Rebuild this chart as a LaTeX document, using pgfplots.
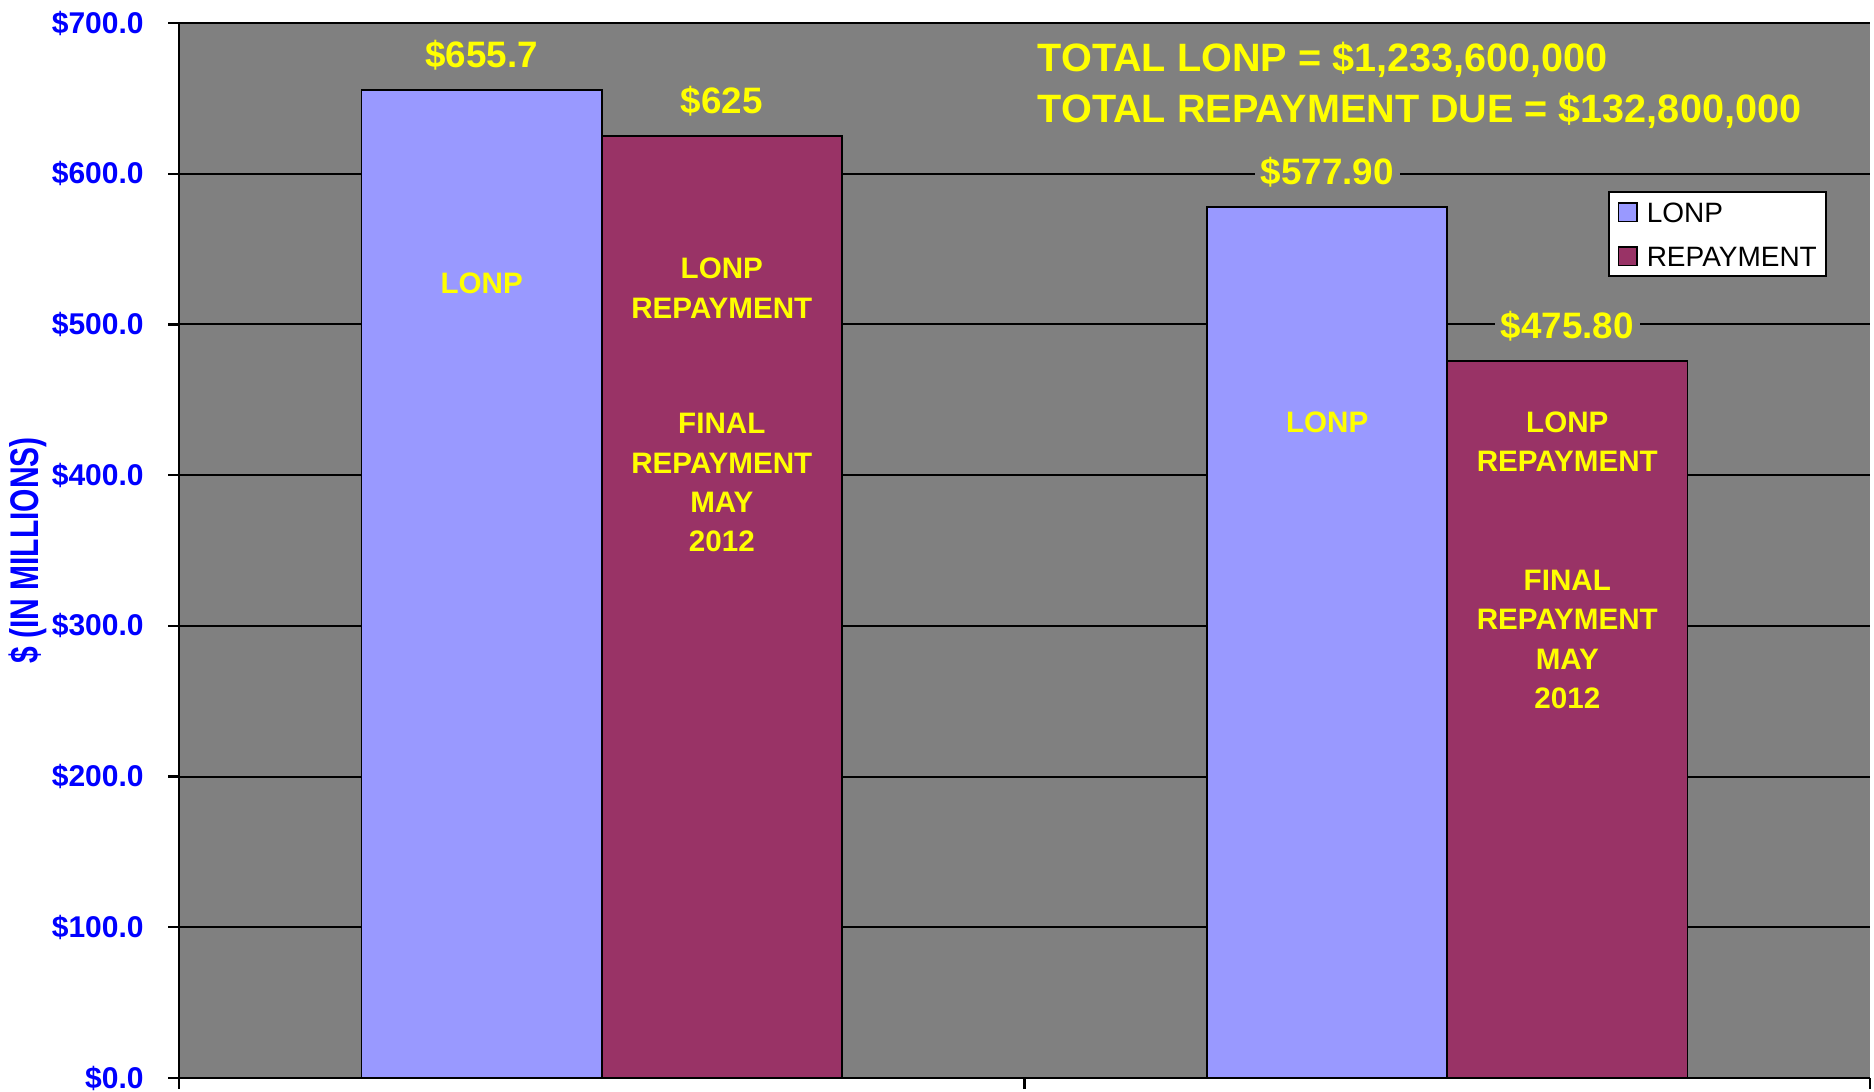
\documentclass[border=0pt]{standalone}
\usepackage{pgfplots}
\pgfplotsset{compat=1.18}
\usepackage{fontspec}
\setmainfont{Liberation Sans}
\newfontfamily\condensed[FakeStretch=0.75]{Liberation Sans}
\definecolor{lonp}{HTML}{9999FF}
\definecolor{repay}{HTML}{993366}
\definecolor{bg}{HTML}{808080}
\definecolor{ylw}{HTML}{FFFF00}
\definecolor{blu}{HTML}{0000FF}
\begin{document}
\begin{tikzpicture}[x=1pt,y=1pt]
\begin{axis}[
  at={(0,0)}, anchor=south west,
  scale only axis, width=422.75pt, height=263.75pt,
  xmin=0, xmax=2, ymin=0, ymax=700,
  axis lines=left,
  axis line style={-, black, line width=0.7pt},
  axis background/.style={fill=bg},
  /pgf/number format/assume math mode=true,
  ytick={0,100,200,300,400,500,600,700},
  yticklabels={\$0.0,\$100.0,\$200.0,\$300.0,\$400.0,\$500.0,\$600.0,\$700.0},
  xtick={0,1,2}, xticklabels={},
  tick align=outside, major tick length=2.75pt,
  tick style={black, line width=0.6pt},
  ymajorgrids, grid style={black, line width=0.5pt},
  yticklabel style={font=\fontsize{7.5}{8}\selectfont\bfseries, text=blu, anchor=east, inner sep=0pt, xshift=-5.9pt},
  ylabel={\$ (IN MILLIONS)},
  ylabel style={font=\condensed\fontsize{10}{12}\selectfont\bfseries, text=blu, at={(axis description cs:-0.0896,0.5)}, anchor=center},
  ybar, bar width=0.284,
  legend style={at={(0.9746,0.8408)}, anchor=north east, draw=black, line width=0.6pt, fill=white,
    font=\fontsize{7}{8}\selectfont, inner xsep=2.25pt, inner ysep=2.5pt,
    nodes={inner sep=0pt, text height=5pt, text depth=0pt}, row sep=6pt, column sep=2.25pt},
  legend cell align=left,
  every node near coord/.append style={font=\fontsize{9.2}{11}\selectfont\bfseries, text=ylw, fill=bg, inner sep=1.5pt, anchor=base, yshift=5.6pt},
]
\addplot[fill=lonp, draw=black, line width=0.4pt, bar shift=-0.142,
  nodes near coords, point meta=explicit symbolic,
  legend image code/.code={\draw[fill=lonp, draw=black, line width=0.4pt] (0pt,-2.3pt) rectangle (4.6pt,2.3pt);}]
  coordinates {(0.5,655.7) [\$655.7] (1.5,577.9) [\$577.90]};
\addplot[fill=repay, draw=black, line width=0.4pt, bar shift=0.142,
  nodes near coords, point meta=explicit symbolic,
  legend image code/.code={\draw[fill=repay, draw=black, line width=0.4pt] (0pt,-2.3pt) rectangle (4.6pt,2.3pt);}]
  coordinates {(0.5,625) [\$625] (1.5,475.8) [\$475.80]};
\legend{LONP,REPAYMENT}
% annotations inside bars
\begin{scope}[every node/.style={font=\fontsize{7.4}{9.8}\selectfont\bfseries, text=ylw, align=center, inner sep=0pt}]
\node at (axis cs:0.358,527.5) {LONP};
\node at (axis cs:0.642,524) {LONP\\REPAYMENT};
\node at (axis cs:0.642,395) {FINAL\\REPAYMENT\\MAY\\2012};
\node at (axis cs:1.358,435) {LONP};
\node at (axis cs:1.642,422) {LONP\\REPAYMENT};
\node at (axis cs:1.642,291) {FINAL\\REPAYMENT\\MAY\\2012};
\end{scope}
\begin{scope}[every node/.style={font=\fontsize{9.9}{12}\selectfont\bfseries, text=ylw, anchor=base west, inner sep=0pt}]
\node at (axis cs:1.0148,667.5) {TOTAL LONP = \$1,233,600,000};
\node at (axis cs:1.0148,633.7) {TOTAL REPAYMENT DUE = \$132,800,000};
\end{scope}
\end{axis}
\pgfresetboundingbox
\path[use as bounding box] (-44.75,-3.5) rectangle (423.75,269.5);
\end{tikzpicture}
\end{document}
